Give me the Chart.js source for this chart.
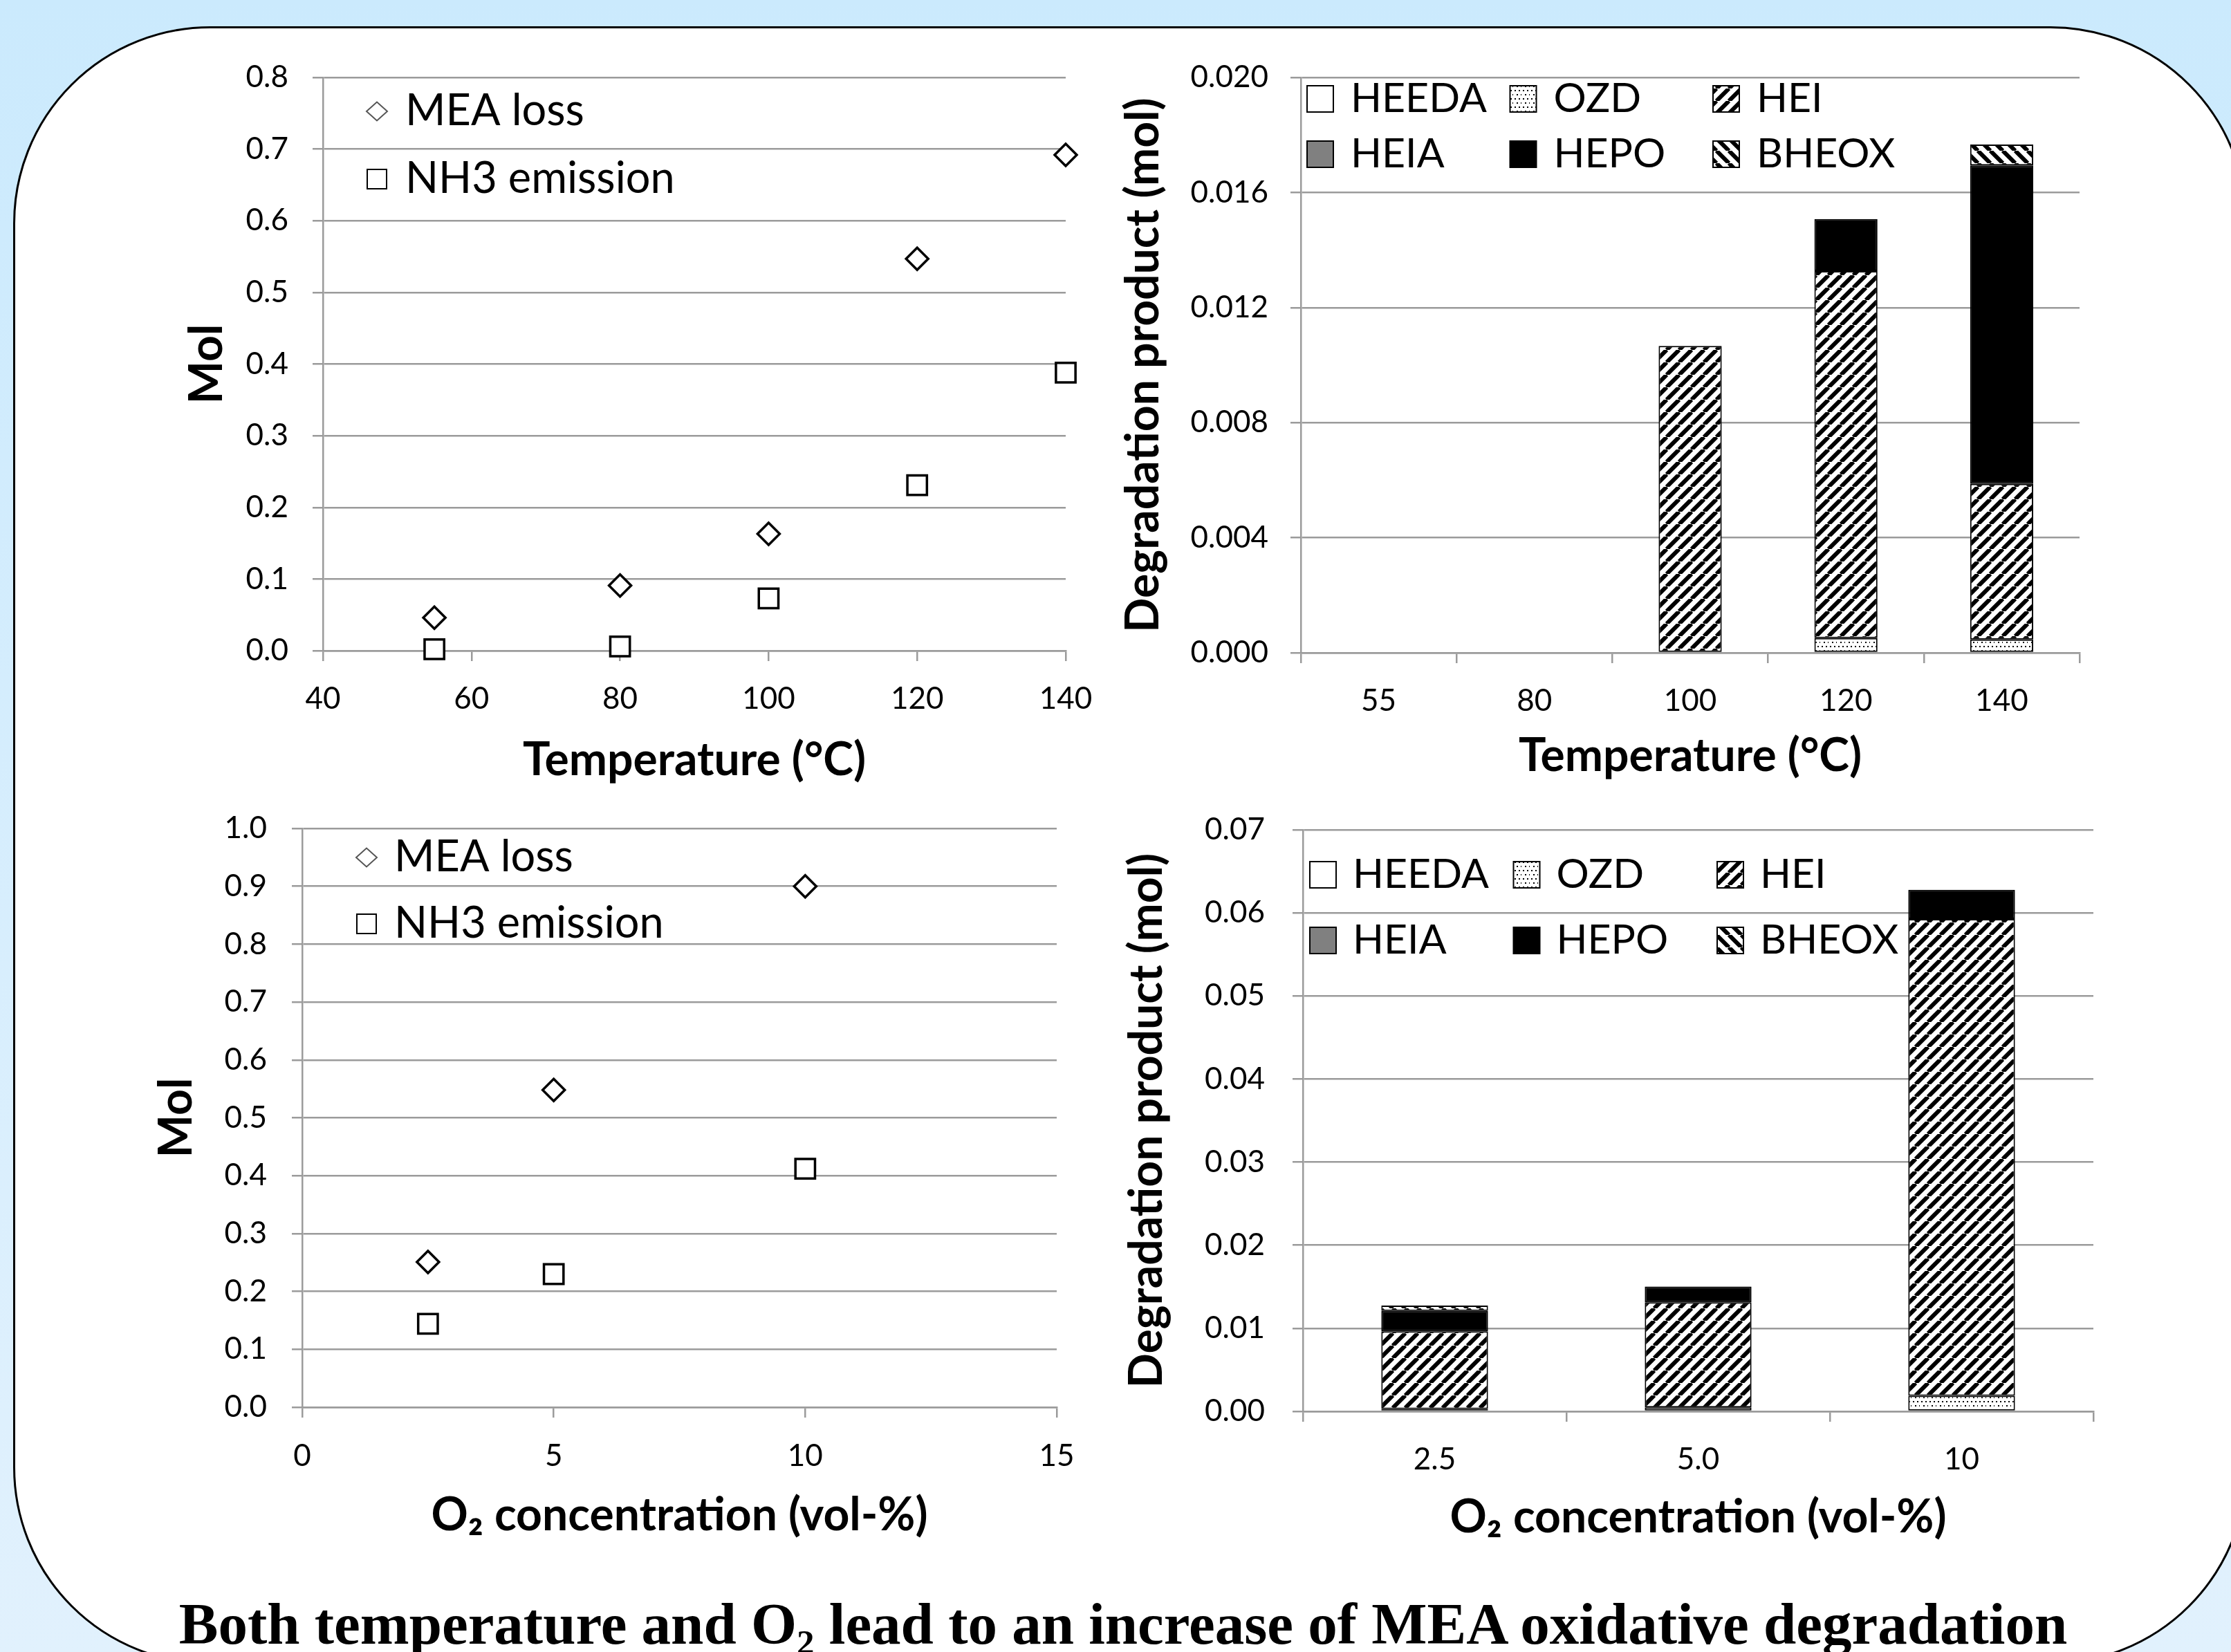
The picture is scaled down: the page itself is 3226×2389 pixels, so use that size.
<!DOCTYPE html>
<html>
<head>
<meta charset="utf-8">
<script src="https://cdn.jsdelivr.net/npm/chart.js@4.4.1/dist/chart.umd.min.js"></script>
<style>
  html, body { margin: 0; padding: 0; }
  body { width: 3226px; height: 2389px; overflow: hidden; position: relative;
         background: linear-gradient(#cbeafd, #e1f1fd); }
  #panel { position: absolute; left: 19px; top: 38px; width: 3231px; height: 2369px; box-sizing: border-box;
           border: 3px solid #000; border-radius: 285px; background: #fff; }
  canvas { position: absolute; }
  #caption { position: absolute; left: 0; width: 3248px; top: 2305px; text-align: center; color: #000;
             font: bold 85px "Liberation Serif", "Times New Roman", serif; line-height: 86px; white-space: nowrap; }
  #caption sub { font-size: 60%; vertical-align: -0.3em; line-height: 0; }
</style>
</head>
<body>
<div id="panel"></div>
<canvas id="tl"></canvas>
<canvas id="tr"></canvas>
<canvas id="bl"></canvas>
<canvas id="br"></canvas>
<div id="caption">Both temperature and O<sub>2</sub> lead to an increase of MEA oxidative degradation</div>
<script>
// ---- data ----
// temperature series (scatter, top left)
const temps = [55, 80, 100, 120, 140];
const meaLossTemp = [0.046, 0.091, 0.163, 0.547, 0.692];
const nh3Temp = [0.002, 0.006, 0.073, 0.231, 0.388];

// O2 series (scatter, bottom left)
const o2Levels = [2.5, 5, 10];
const meaLossO2 = [0.251, 0.548, 0.900];
const nh3O2 = [0.144, 0.230, 0.412];

// degradation products vs temperature (stacked bars, top right)
const tempLabels = ['55', '80', '100', '120', '140'];
const heedaTemp = [0, 0, 0, 0, 0];
const ozdTemp = [0, 0, 0, 0.00051, 0.00046];
const heiTemp = [0, 0, 0.01067, 0.01276, 0.00541];
const heiaTemp = [0, 0, 0, 0, 0];
const hepoTemp = [0, 0, 0, 0.00181, 0.01107];
const bheoxTemp = [0, 0, 0, 0, 0.00073];

// degradation products vs O2 (stacked bars, bottom right)
const o2Labels = ['2.5', '5.0', '10'];
const heedaO2 = [0, 0, 0];
const ozdO2 = [0.0003, 0.00047, 0.00187];
const heiO2 = [0.00934, 0.01267, 0.0574];
const heiaO2 = [0, 0, 0];
const hepoO2 = [0.00245, 0.00188, 0.0035];
const bheoxO2 = [0.00065, 0, 0];

const productNames = ['HEEDA', 'OZD', 'HEI', 'HEIA', 'HEPO', 'BHEOX'];

const GRID = '#9b9b9b';
const FONT = 'Lato, "Open Sans", sans-serif';

// hatch fills like the excel patterns
function makePattern(kind) {
  const c = document.createElement('canvas');
  const s = kind === 'dots' ? 12 : 18;
  c.width = s; c.height = s;
  const g = c.getContext('2d');
  g.fillStyle = '#fff';
  g.fillRect(0, 0, s, s);
  g.fillStyle = '#000';
  g.strokeStyle = '#000';
  if (kind === 'dots') {
    [[2, 2], [8, 2], [5, 8], [11, 8]].forEach(p => g.fillRect(p[0], p[1], 2, 2));
  } else {
    g.lineWidth = 6;
    g.beginPath();
    for (let k = -1; k <= 1; k++) {
      if (kind === 'up') { g.moveTo(k * s, s); g.lineTo(k * s + s, 0); }
      else { g.moveTo(k * s, 0); g.lineTo(k * s + s, s); }
    }
    g.stroke();
  }
  return g.createPattern(c, 'repeat');
}

const fills = ['#ffffff', makePattern('dots'), makePattern('up'), '#808080', '#000000', makePattern('down')];

// legend drawn inside the plot area
const keyPlugin = {
  id: 'key',
  afterDraw(chart, args, o) {
    const {ctx, chartArea} = chart;
    ctx.save();
    ctx.font = o.font;
    ctx.textBaseline = 'middle';
    chart.data.datasets.forEach((ds, i) => {
      const col = i % o.cols, row = Math.floor(i / o.cols);
      const x = chartArea.left + o.x + col * o.colWidth;
      const y = chartArea.top + o.y + row * o.rowHeight;
      if (o.kind === 'box') {
        const b = o.box;
        ctx.fillStyle = ds.backgroundColor;
        ctx.fillRect(x, y - b / 2, b, b);
        ctx.lineWidth = 2;
        ctx.strokeStyle = '#000';
        ctx.strokeRect(x, y - b / 2, b, b);
      } else {
        ctx.lineWidth = 2;
        ctx.strokeStyle = o.markColors[i];
        ctx.fillStyle = '#fff';
        ctx.beginPath();
        if (ds.pointStyle === 'rectRot') {
          const r = 15;
          ctx.moveTo(x - r, y); ctx.lineTo(x, y - r * 0.9); ctx.lineTo(x + r, y); ctx.lineTo(x, y + r * 0.9);
          ctx.closePath();
        } else {
          ctx.rect(x - 14, y - 14, 28, 28);
        }
        ctx.fill();
        ctx.stroke();
      }
      ctx.fillStyle = '#000';
      ctx.fillText(ds.label, x + o.textGap, y);
    });
    ctx.restore();
  }
};

function place(id, L) {
  const c = document.getElementById(id);
  c.width = L.w; c.height = L.h;
  c.style.left = L.x + 'px'; c.style.top = L.y + 'px';
  c.style.width = L.w + 'px'; c.style.height = L.h + 'px';
  return c;
}

// builds the options for one panel from its page layout
function panelOptions(L, xCfg, yCfg, key) {
  const TL = 15, tickSize = 44, titleSize = 66;
  const common = (cfg) => ({
    grid: { color: GRID, lineWidth: 2.5, tickLength: TL, tickColor: GRID },
    border: { display: true, color: GRID, width: 2.5 },
    ticks: { color: '#000', font: { family: FONT, size: tickSize, lineHeight: 1 } },
    title: { display: true, text: cfg.title, color: '#000', font: { family: FONT, size: titleSize, weight: 'bold', lineHeight: 1 } }
  });
  const x = common(xCfg);
  Object.assign(x, xCfg.extra);
  x.grid.drawOnChartArea = false;
  x.ticks.padding = L.xLabelY - L.area.b - TL - tickSize / 2;
  x.title.padding = { top: 0, bottom: (L.y + L.h) - L.xTitleY - titleSize / 2 };
  x.ticks.maxRotation = 0;
  Object.assign(x.ticks, xCfg.ticks || {});
  x.afterFit = s => { s.height = (L.y + L.h) - L.area.b; };

  const y = common(yCfg);
  Object.assign(y, yCfg.extra);
  y.ticks.padding = L.area.l - TL - L.yLabelRight;
  Object.assign(y.ticks, yCfg.ticks || {});
  y.title.padding = { top: L.yTitleX - L.x - titleSize / 2, bottom: 0 };
  y.afterFit = s => { s.width = L.area.l - L.x; };

  return {
    responsive: false,
    animation: false,
    devicePixelRatio: 1,
    layout: { padding: { left: 0, bottom: 0, top: L.area.t - L.y, right: (L.x + L.w) - L.area.r } },
    plugins: { legend: { display: false }, tooltip: { enabled: false }, key: key },
    scales: { x: x, y: y }
  };
}

function pts(xs, ys) { return xs.map((v, i) => ({ x: v, y: ys[i] })); }

function scatterSets(xs, mea, nh3) {
  return [
    { label: 'MEA loss', data: pts(xs, mea), pointStyle: 'rectRot', radius: 16, borderWidth: 3.5,
      borderColor: '#000', backgroundColor: '#fff', clip: false },
    { label: 'NH3 emission', data: pts(xs, nh3), pointStyle: 'rect', radius: 20, borderWidth: 3.5,
      borderColor: '#000', backgroundColor: '#fff', clip: false }
  ];
}

function barSets(series) {
  return series.map((vals, i) => ({
    label: productNames[i], data: vals, backgroundColor: fills[i], borderColor: '#000', borderWidth: 2,
    borderSkipped: false, barPercentage: 0.405, categoryPercentage: 1, stack: 'p'
  }));
}

// ---- top left: temperature scatter ----
const layTL = { x: 150, y: 20, w: 1470, h: 1140, area: { l: 467, t: 112, r: 1541, b: 941 },
  yTitleX: 300, xTitleY: 1100, yLabelRight: 417, xLabelY: 1011 };
new Chart(place('tl', layTL), {
  type: 'scatter',
  data: { datasets: scatterSets(temps, meaLossTemp, nh3Temp) },
  options: panelOptions(layTL,
    { title: 'Temperature (°C)', extra: { type: 'linear', min: 40, max: 140 }, ticks: { stepSize: 20 } },
    { title: 'Mol', extra: { min: 0, max: 0.8 }, ticks: { stepSize: 0.1, callback: v => v.toFixed(1) } },
    { kind: 'mark', x: 78, y: 49, rowHeight: 98, cols: 1, colWidth: 0, textGap: 41,
      font: '63px ' + FONT, markColors: ['#555', '#000'] }),
  plugins: [keyPlugin]
});

// ---- top right: products vs temperature ----
const layTR = { x: 1600, y: 20, w: 1480, h: 1140, area: { l: 1881, t: 112, r: 3007, b: 944 },
  yTitleX: 1654, xTitleY: 1094, yLabelRight: 1834, xLabelY: 1014 };
new Chart(place('tr', layTR), {
  type: 'bar',
  data: { labels: tempLabels, datasets: barSets([heedaTemp, ozdTemp, heiTemp, heiaTemp, hepoTemp, bheoxTemp]) },
  options: panelOptions(layTR,
    { title: 'Temperature (°C)', extra: { stacked: true } },
    { title: 'Degradation product (mol)', extra: { stacked: true, min: 0, max: 0.02 },
      ticks: { stepSize: 0.004, callback: v => v.toFixed(3) } },
    { kind: 'box', x: 9, y: 31, rowHeight: 80, cols: 3, colWidth: 293.5, textGap: 63, box: 38,
      font: '59px ' + FONT }),
  plugins: [keyPlugin]
});

// ---- bottom left: O2 scatter ----
const layBL = { x: 150, y: 1100, w: 1470, h: 1160, area: { l: 437, t: 1198, r: 1528, b: 2035 },
  yTitleX: 256, xTitleY: 2192, yLabelRight: 386, xLabelY: 2106 };
new Chart(place('bl', layBL), {
  type: 'scatter',
  data: { datasets: scatterSets(o2Levels, meaLossO2, nh3O2) },
  options: panelOptions(layBL,
    { title: 'O₂ concentration (vol-%)', extra: { type: 'linear', min: 0, max: 15 }, ticks: { stepSize: 5 } },
    { title: 'Mol', extra: { min: 0, max: 1.0 }, ticks: { stepSize: 0.1, callback: v => v.toFixed(1) } },
    { kind: 'mark', x: 93, y: 42, rowHeight: 96, cols: 1, colWidth: 0, textGap: 40,
      font: '63px ' + FONT, markColors: ['#555', '#000'] }),
  plugins: [keyPlugin]
});

// ---- bottom right: products vs O2 ----
const layBR = { x: 1600, y: 1100, w: 1500, h: 1160, area: { l: 1884, t: 1200, r: 3027, b: 2041 },
  yTitleX: 1659, xTitleY: 2195, yLabelRight: 1829, xLabelY: 2111 };
new Chart(place('br', layBR), {
  type: 'bar',
  data: { labels: o2Labels, datasets: barSets([heedaO2, ozdO2, heiO2, heiaO2, hepoO2, bheoxO2]) },
  options: panelOptions(layBR,
    { title: 'O₂ concentration (vol-%)', extra: { stacked: true } },
    { title: 'Degradation product (mol)', extra: { stacked: true, min: 0, max: 0.07 },
      ticks: { stepSize: 0.01, callback: v => v.toFixed(2) } },
    { kind: 'box', x: 10, y: 65, rowHeight: 95, cols: 3, colWidth: 294.5, textGap: 62, box: 38,
      font: '59px ' + FONT }),
  plugins: [keyPlugin]
});
</script>
</body>
</html>
